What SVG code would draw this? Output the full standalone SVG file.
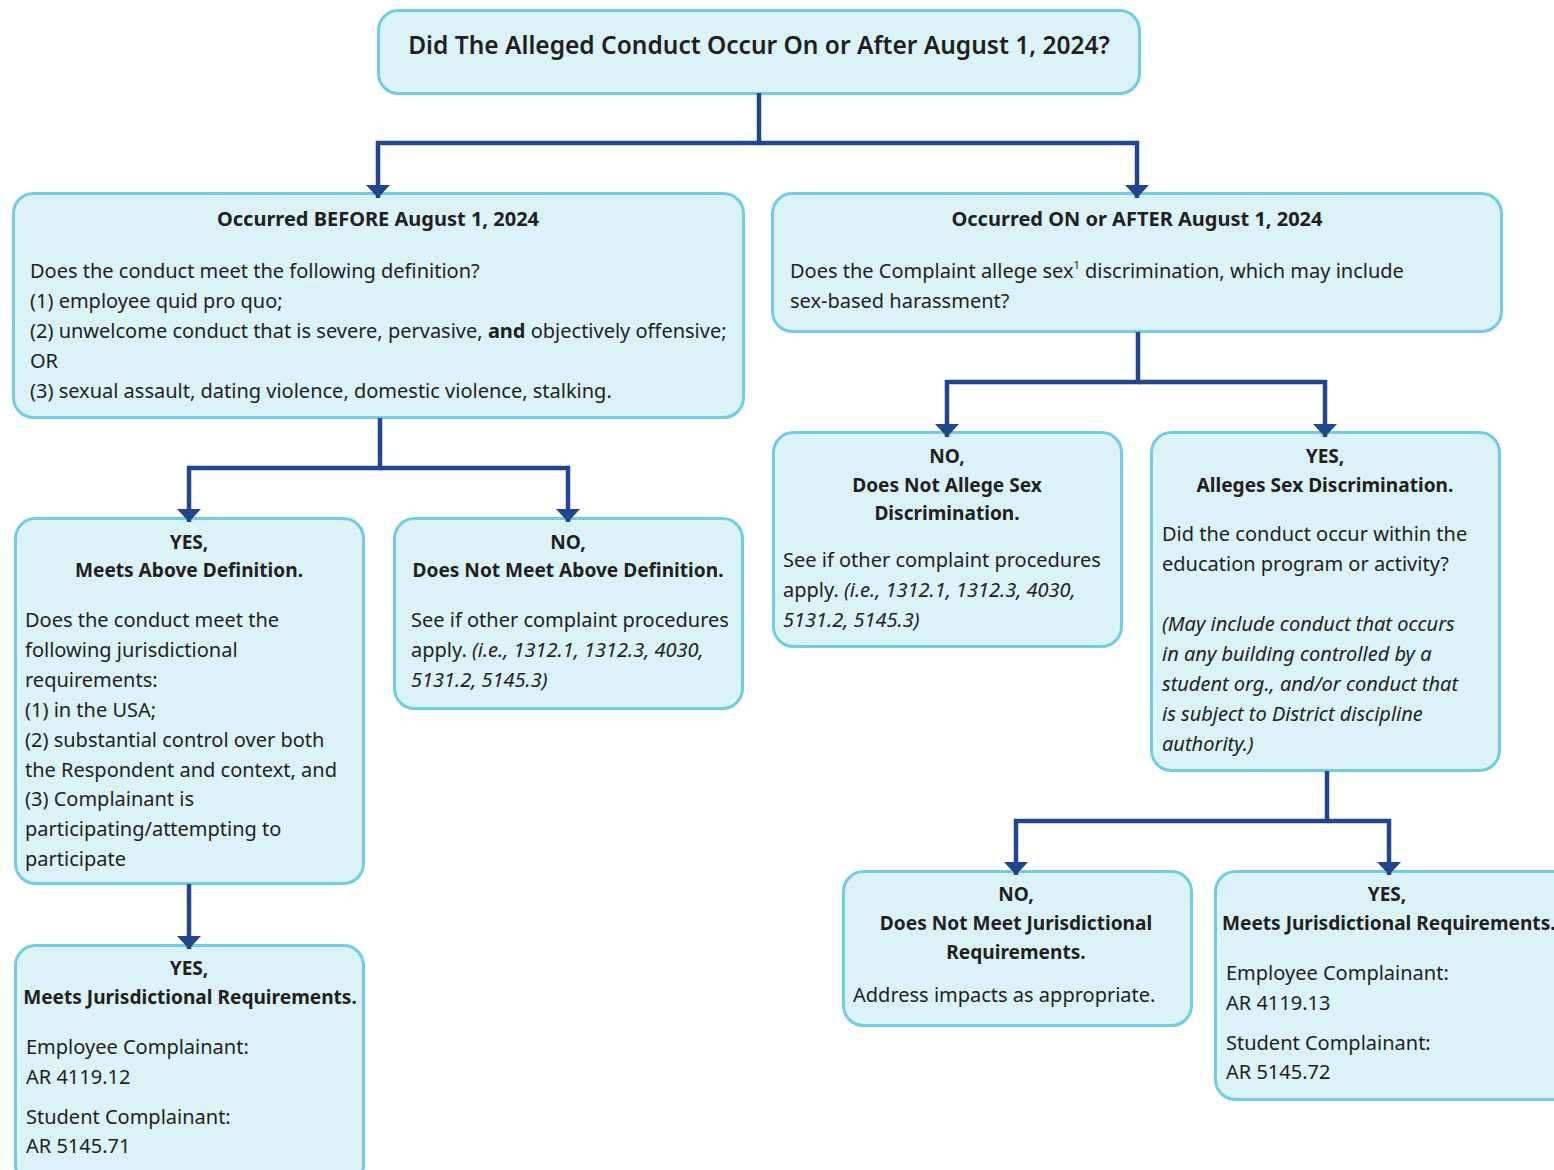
<svg xmlns="http://www.w3.org/2000/svg" width="1554" height="1170" viewBox="0 0 1554 1170">
<style>
.box{fill:#DBF2F7;stroke:#72CDE0;stroke-width:3}
.t{font-family:"Noto Sans","Open Sans",sans-serif;font-size:20px;fill:#231F20}
.b{font-weight:bold}
.h{font-size:19.1px}
.c{text-anchor:middle}
.i{font-style:italic}
.title{font-family:"Noto Sans","Open Sans",sans-serif;font-size:24.5px;font-weight:600;fill:#231F20;text-anchor:middle}
.con{fill:none;stroke:#21468B;stroke-width:4.5;marker-end:url(#ah)}
</style>
<defs>
<marker id="ah" markerUnits="userSpaceOnUse" viewBox="0 -12.5 13 25" refX="13" refY="0" markerWidth="13" markerHeight="25" orient="auto">
<path d="M0,-12 L13,0 L0,12 z" fill="#21468B"/>
</marker>
</defs>
<rect width="1554" height="1170" fill="#FFFFFF"/>

<g id="n_root">
<rect class="box" x="378.5" y="10.5" width="761" height="83" rx="20"/>
<text class="title" x="759" y="54">Did The Alleged Conduct Occur On or After August 1, 2024?</text>
</g>

<g id="n_before">
<rect class="box" x="13.5" y="193.5" width="730" height="224" rx="20"/>
<text class="t b c" x="378" y="226">Occurred BEFORE August 1, 2024</text>
<text class="t" x="30" y="278">Does the conduct meet the following definition?</text>
<text class="t" x="30" y="308">(1) employee quid pro quo;</text>
<text class="t" x="30" y="338">(2) unwelcome conduct that is severe, pervasive, <tspan class="b">and</tspan> objectively offensive;</text>
<text class="t" x="30" y="368">OR</text>
<text class="t" x="30" y="398">(3) sexual assault, dating violence, domestic violence, stalking.</text>
</g>

<g id="n_after">
<rect class="box" x="772.5" y="193.5" width="729" height="138" rx="20"/>
<text class="t b c" x="1137" y="226">Occurred ON or AFTER August 1, 2024</text>
<text class="t" x="790" y="278">Does the Complaint allege sex<tspan font-size="11" dy="-9">1</tspan><tspan dy="9"> discrimination, which may include</tspan></text>
<text class="t" x="790" y="308">sex-based harassment?</text>
</g>

<g id="n_yes1">
<rect class="box" x="15.5" y="518.5" width="348" height="365" rx="20"/>
<text class="t b h c" x="189" y="549">YES,</text>
<text class="t b h c" x="189" y="577">Meets Above Definition.</text>
<text class="t" x="25" y="627">Does the conduct meet the</text>
<text class="t" x="25" y="657">following jurisdictional</text>
<text class="t" x="25" y="687">requirements:</text>
<text class="t" x="25" y="717">(1) in the USA;</text>
<text class="t" x="25" y="747">(2) substantial control over both</text>
<text class="t" x="25" y="777">the Respondent and context, and</text>
<text class="t" x="25" y="806">(3) Complainant is</text>
<text class="t" x="25" y="836">participating/attempting to</text>
<text class="t" x="25" y="866">participate</text>
</g>

<g id="n_no1">
<rect class="box" x="394.5" y="518.5" width="348" height="190" rx="20"/>
<text class="t b h c" x="568" y="549">NO,</text>
<text class="t b h c" x="568" y="577">Does Not Meet Above Definition.</text>
<text class="t" x="411" y="627">See if other complaint procedures</text>
<text class="t" x="411" y="657">apply. <tspan class="i">(i.e., 1312.1, 1312.3, 4030,</tspan></text>
<text class="t i" x="411" y="687">5131.2, 5145.3)</text>
</g>

<g id="n_yes1b">
<rect class="box" x="15.5" y="945.5" width="348" height="240" rx="20"/>
<text class="t b h c" x="189" y="975">YES,</text>
<text class="t b h c" x="190" y="1004">Meets Jurisdictional Requirements.</text>
<text class="t" x="26" y="1054">Employee Complainant:</text>
<text class="t" x="26" y="1084">AR 4119.12</text>
<text class="t" x="26" y="1124">Student Complainant:</text>
<text class="t" x="26" y="1153">AR 5145.71</text>
</g>

<g id="n_no2">
<rect class="box" x="773.5" y="432.5" width="348" height="214" rx="20"/>
<text class="t b h c" x="947" y="463">NO,</text>
<text class="t b h c" x="947" y="492">Does Not Allege Sex</text>
<text class="t b h c" x="947" y="520">Discrimination.</text>
<text class="t" x="783" y="567">See if other complaint procedures</text>
<text class="t" x="783" y="597">apply. <tspan class="i">(i.e., 1312.1, 1312.3, 4030,</tspan></text>
<text class="t i" x="783" y="627">5131.2, 5145.3)</text>
</g>

<g id="n_yes2">
<rect class="box" x="1151.5" y="432.5" width="348" height="338" rx="20"/>
<text class="t b h c" x="1325" y="463">YES,</text>
<text class="t b h c" x="1325" y="492">Alleges Sex Discrimination.</text>
<text class="t" x="1162" y="541">Did the conduct occur within the</text>
<text class="t" x="1162" y="571">education program or activity?</text>
<text class="t i" x="1162" y="631">(May include conduct that occurs</text>
<text class="t i" x="1162" y="661">in any building controlled by a</text>
<text class="t i" x="1162" y="691">student org., and/or conduct that</text>
<text class="t i" x="1162" y="721">is subject to District discipline</text>
<text class="t i" x="1162" y="751">authority.)</text>
</g>

<g id="n_no3">
<rect class="box" x="843.5" y="871.5" width="348" height="154" rx="20"/>
<text class="t b h c" x="1016" y="901">NO,</text>
<text class="t b h c" x="1016" y="930">Does Not Meet Jurisdictional</text>
<text class="t b h c" x="1016" y="959">Requirements.</text>
<text class="t" x="853" y="1002">Address impacts as appropriate.</text>
</g>

<g id="n_yes3">
<rect class="box" x="1215.5" y="871.5" width="360" height="228" rx="20"/>
<text class="t b h c" x="1387" y="901">YES,</text>
<text class="t b h" x="1222" y="930">Meets Jurisdictional Requirements.</text>
<text class="t" x="1226" y="980">Employee Complainant:</text>
<text class="t" x="1226" y="1010">AR 4119.13</text>
<text class="t" x="1226" y="1050">Student Complainant:</text>
<text class="t" x="1226" y="1079">AR 5145.72</text>
</g>

<g id="connectors">
<path class="con" d="M759,93 V143 H378 V198"/>
<path class="con" d="M759,143 H1137 V198"/>
<path class="con" d="M380,418 V468 H189 V522"/>
<path class="con" d="M380,468 H568 V522"/>
<path class="con" d="M189,884 V949"/>
<path class="con" d="M1138,332 V382 H947 V437"/>
<path class="con" d="M1138,382 H1325 V437"/>
<path class="con" d="M1327,771 V821 H1016 V875"/>
<path class="con" d="M1327,821 H1389 V875"/>
</g>
</svg>
